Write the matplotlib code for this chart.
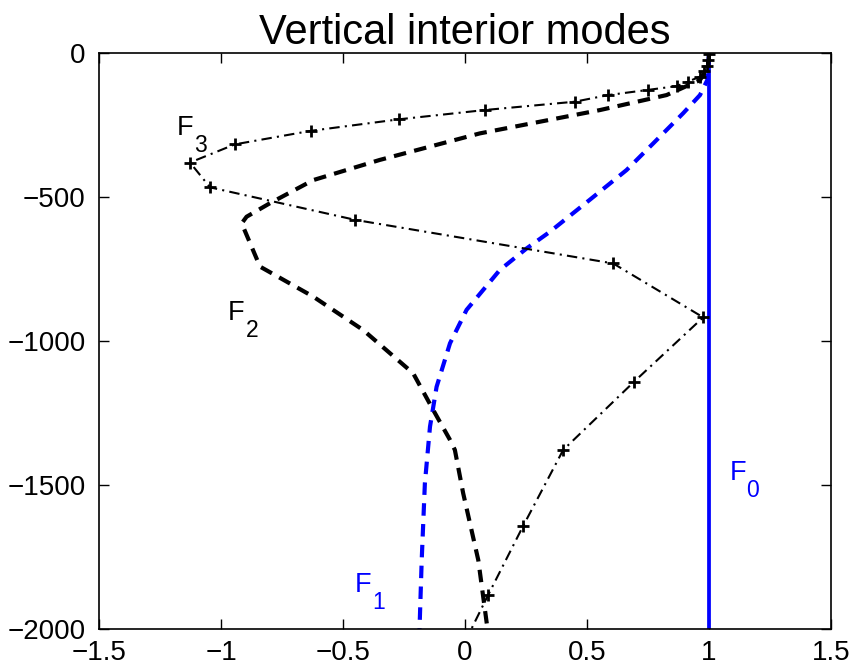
import matplotlib
matplotlib.use("Agg")
import matplotlib.pyplot as plt
import matplotlib.transforms as mtransforms

plt.rcParams['font.family'] = ['Liberation Sans', 'DejaVu Sans']

# ---- data ----
f0_x = [1.0, 1.0]
f0_z = [0, -2000]

f1_x = [1.0, 0.993, 0.963, 0.894, 0.772, 0.662, 0.51, 0.348, 0.252,
        0.142, 0.006, -0.062, -0.117, -0.144, -0.165, -0.178, -0.187]
f1_z = [0, -95, -147, -210, -314, -407, -511, -621, -679,
        -754, -892, -1008, -1159, -1297, -1494, -1760, -2000]

f2_x = [1.0, 0.997, 0.976, 0.963, 0.826, 0.553, 0.06, -0.35, -0.623, -0.8,
        -0.896, -0.916, -0.841, -0.623, -0.418, -0.213, -0.131, -0.062,
        -0.042, -0.008, 0.054, 0.092]
f2_z = [0, -48, -77, -95, -147, -199, -280, -372, -442, -522,
        -569, -592, -742, -846, -962, -1112, -1239, -1343,
        -1378, -1528, -1760, -2000]

f3_x = [1.0, 0.997, 0.99, 0.98, 0.963, 0.915, 0.867, 0.751, 0.587, 0.45, 0.08,
        -0.27, -0.632, -0.944, -1.128, -1.046, -0.45, 0.607, 0.976, 0.693,
        0.402, 0.237, 0.095, 0.025]
f3_z = [-5, -25, -45, -65, -83, -100, -116, -129, -147, -170, -199,
        -231, -271, -318, -381, -467, -580, -731, -918, -1141,
        -1378, -1643, -1880, -2000]

labels = ['0', '1', '2', '3']
label_x = [1.083, -0.452, -0.972, -1.181]
label_z = [-1482, -1871, -927, -285]
label_colors = ['#0000ff', '#0000ff', 'black', 'black']

xticks = [-1.5, -1, -0.5, 0, 0.5, 1, 1.5]
xticklabels = ['\u22121.5', '\u22121', '\u22120.5', '0', '0.5', '1', '1.5']
yticks = [0, -500, -1000, -1500, -2000]
yticklabels = ['0', '\u2212500', '\u22121000', '\u22121500', '\u22122000']

# ---- figure ----
fig = plt.figure(figsize=(8.55, 6.66), dpi=100)
ax = fig.add_axes([0.1161, 0.0551, 0.8558, 0.8658])

blue = '#0000ff'
ax.plot(f0_x, f0_z, color=blue, lw=2.7, solid_capstyle='butt')
ax.plot(f1_x, f1_z, color=blue, lw=3.0, dashes=(3, 2), dash_capstyle='butt')
ax.plot(f2_x, f2_z, color='black', lw=3.0, dashes=(3, 2), dash_capstyle='butt')
ax.plot(f3_x, f3_z, color='black', lw=1.5, dashes=(5, 2.5, 1, 2.5),
        marker='+', ms=9, mew=2, markevery=list(range(len(f3_x) - 1)))

ax.set_xlim(-1.5, 1.5)
ax.set_ylim(-2000, 0)
ax.set_xticks(xticks)
ax.set_xticklabels(xticklabels)
ax.set_yticks(yticks)
ax.set_yticklabels(yticklabels)
ax.tick_params(direction='in', length=7, width=1, top=True, right=True,
               labelsize=20, pad=10)
ax.tick_params(axis='x', pad=8)
for s in ax.spines.values():
    s.set_linewidth(1.2)

ax.set_title('Vertical interior modes', fontsize=30, pad=6)

fs = 19.5
for lab, lx, lz, c in zip(labels, label_x, label_z, label_colors):
    ax.text(lx, lz, 'F', color=c, fontsize=fs, ha='left', va='baseline')
    tr = mtransforms.offset_copy(ax.transData, fig=fig, x=fs * 0.64, y=-12, units='points')
    ax.text(lx, lz, lab, color=c, fontsize=16.5, ha='left', va='baseline', transform=tr)

fig.savefig('out.png', dpi=100)
